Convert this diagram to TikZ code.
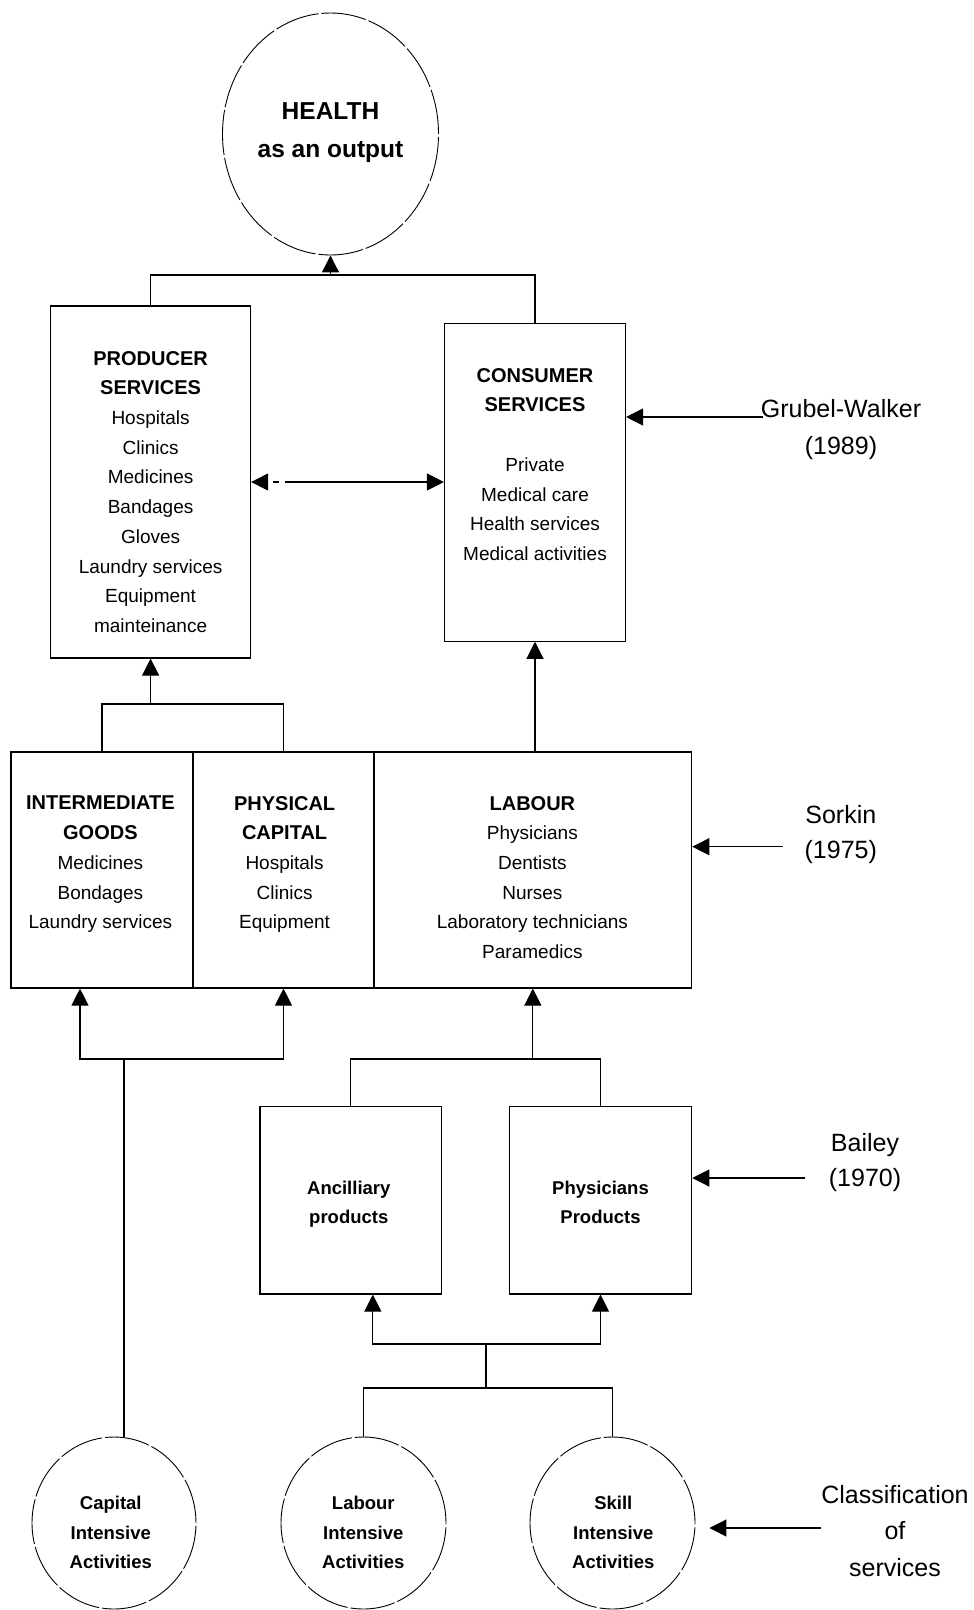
\documentclass[tikz,border=0pt]{standalone}
\usepackage{fontspec}
\setmainfont{Liberation Sans}
\usetikzlibrary{arrows.meta,shapes.geometric}

\newcommand{\headtxt}[1]{{\fontsize{20}{29.7}\selectfont\bfseries #1}}

\begin{document}
\begin{tikzpicture}[x=1pt,y=-1pt,
    box/.style={draw, line width=1.1pt, rectangle, inner sep=0pt},
    oval/.style={draw, line width=0.9pt, ellipse, inner sep=0pt, dash pattern=on 45pt off 3pt},
    txt/.style={anchor=north, inner sep=0pt, align=center, font=\fontsize{19}{29.7}\selectfont},
    boldtxt/.style={anchor=north, inner sep=0pt, align=center, font=\fontsize{18.5}{29.5}\bfseries\selectfont},
    cite/.style={anchor=north, inner sep=0pt, align=center, font=\fontsize{25}{#1}\selectfont},
    link/.style={line width=1.1pt},
    arr/.style={link, -{Triangle[length=17pt,width=17pt]}}]
  \useasboundingbox (0,0) rectangle (974,1610);

  % output
  \node[oval, minimum width=216pt, minimum height=242pt] (health) at (330.5,134) {};
  \node[anchor=north, inner sep=0pt, align=center, font=\fontsize{24.5}{38}\bfseries\selectfont] (health-t) at (330.5,102.5) {HEALTH\\as an output};

  % services
  \node[box, minimum width=200pt, minimum height=352pt] (prod) at (150.6,482) {};
  \node[txt] (prod-t) at (150.6,351) {\headtxt{PRODUCER}\\\headtxt{SERVICES}\\Hospitals\\Clinics\\Medicines\\Bandages\\Gloves\\Laundry services\\Equipment\\mainteinance};
  \node[box, minimum width=181pt, minimum height=318pt] (cons) at (535,482.2) {};
  \node[txt] (cons-t) at (535,368) {\headtxt{CONSUMER}\\\headtxt{SERVICES}\\[30pt]Private\\Medical care\\Health services\\Medical activities};

  % inputs
  \node[box, minimum width=182pt, minimum height=236pt] (inter) at (102,870) {};
  \node[txt] (inter-t) at (100.4,796) {\headtxt{INTERMEDIATE}\\\headtxt{GOODS}\\Medicines\\Bondages\\Laundry services};
  \node[box, minimum width=181pt, minimum height=236pt] (phys) at (283.5,870) {};
  \node[txt] (phys-t) at (284.6,796) {\headtxt{PHYSICAL}\\\headtxt{CAPITAL}\\Hospitals\\Clinics\\Equipment};
  \node[box, minimum width=317.7pt, minimum height=236pt] (labour) at (532.85,870) {};
  \node[txt] (labour-t) at (532.4,796) {\headtxt{LABOUR}\\Physicians\\Dentists\\Nurses\\Laboratory technicians\\Paramedics};

  \node[box, minimum width=181.7pt, minimum height=187.3pt] (anc) at (350.85,1200.35) {};
  \node[boldtxt] (anc-t) at (348.8,1180.6) {Ancilliary\\products};
  \node[box, minimum width=182.4pt, minimum height=187.3pt] (phy) at (600.5,1200.35) {};
  \node[boldtxt] (phy-t) at (600.5,1180.6) {Physicians\\Products};

  % activities
  \node[oval, minimum width=164pt, minimum height=172pt] (cap) at (114,1523) {};
  \node[boldtxt] (cap-t) at (110.8,1496.3) {Capital\\Intensive\\Activities};
  \node[oval, minimum width=165pt, minimum height=172pt] (lab) at (363.5,1523) {};
  \node[boldtxt] (lab-t) at (363.3,1496.3) {Labour\\Intensive\\Activities};
  \node[oval, minimum width=165pt, minimum height=172pt] (skill) at (612.5,1523) {};
  \node[boldtxt] (skill-t) at (613.3,1496.3) {Skill\\Intensive\\Activities};

  % sources
  \node[cite=37] (grubel) at (841,399) {Grubel-Walker\\(1989)};
  \node[cite=35] (sorkin) at (840.8,805) {Sorkin\\(1975)};
  \node[cite=35] (bailey) at (865,1133) {Bailey\\(1970)};
  \node[cite=36.5] (classif) at (895,1485) {Classification\\of\\services};

  \coordinate (grubel-a) at (763.3,417);
  \coordinate (sorkin-a) at (782.7,846.7);
  \coordinate (bailey-a) at (805,1178);
  \coordinate (classif-a) at (820.7,1528);
  \draw[arr] (grubel-a) -- (grubel-a -| cons.east);
  \draw[arr] (sorkin-a) -- (sorkin-a -| labour.east);
  \draw[arr] (bailey-a) -- (bailey-a -| phy.east);
  \draw[arr] (classif-a) -- ([xshift=14pt]classif-a -| skill.east);

  % connectors
  \coordinate (topbar) at (330.5,275);
  \draw[link] (prod.north) |- (topbar) -| (cons.north);
  \draw[arr] (topbar) -- (health.south);
  \draw[link, {Triangle[length=17pt,width=17pt]}-{Triangle[length=17pt,width=17pt]},
        dash pattern=on 0pt off 5pt on 6pt off 6pt on 200pt] (prod.east) -- (prod.east -| cons.west);

  \coordinate (prodbar) at (150.6,704);
  \draw[arr] (prodbar) -- (prod.south);
  \draw[link] (inter.north) |- (prodbar) -| (phys.north);
  \draw[arr] (cons.south |- labour.north) -- (cons.south);

  \coordinate (capbar) at (124,1059);
  \draw[link] (capbar) -- (capbar |- cap.north);
  \draw[arr] (capbar) -| ([xshift=-22pt]inter.south);
  \draw[arr] (capbar) -| (phys.south);

  \coordinate (labbar) at (532.85,1059);
  \draw[arr] (labbar) -- (labour.south);
  \draw[link] (anc.north) |- (labbar) -| (phy.north);

  \coordinate (ancbar) at (486,1344);
  \coordinate (actbar) at (486,1388);
  \draw[arr] (ancbar) -| ([xshift=22pt]anc.south);
  \draw[arr] (ancbar) -| (phy.south);
  \draw[link] (ancbar) -- (actbar);
  \draw[link] (lab.north) |- (actbar) -| (skill.north);
\end{tikzpicture}
\end{document}
